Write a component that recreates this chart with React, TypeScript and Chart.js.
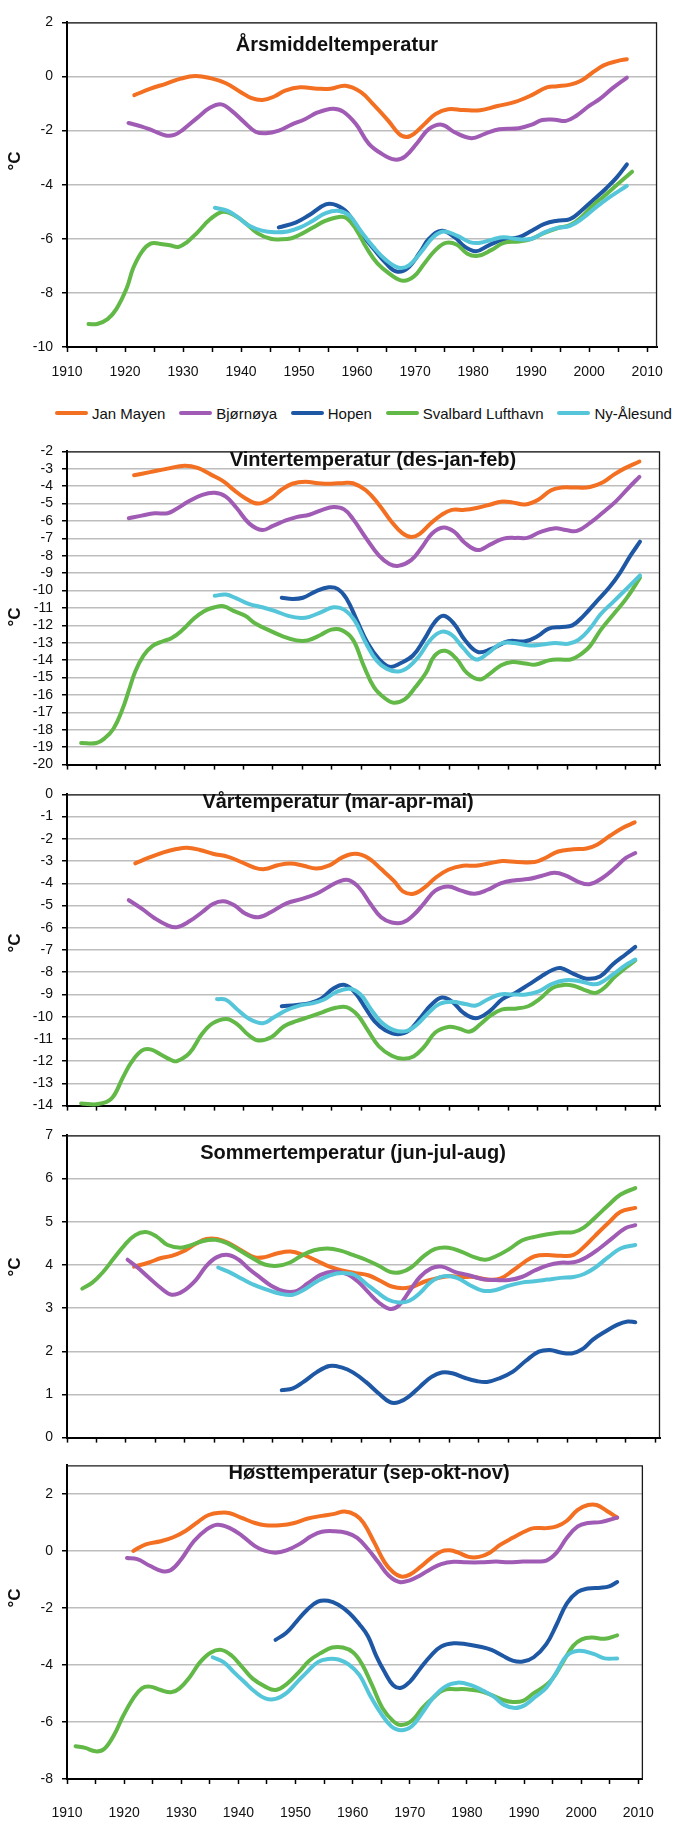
import React, { useEffect, useRef } from 'react';
import { Chart, registerables } from 'chart.js';

Chart.register(...registerables);
Chart.defaults.font.family = "'Liberation Sans', Arial, sans-serif";

type Pt = [number, number];

// ---------- categories / labels ----------
const stations = ['Jan Mayen', 'Bjørnøya', 'Hopen', 'Svalbard Lufthavn', 'Ny-Ålesund'];
const stationColors = ['#F36F21', '#A05BB4', '#1E57A4', '#62B947', '#55C6D9'];
const xTickYears = [1910, 1915, 1920, 1925, 1930, 1935, 1940, 1945, 1950, 1955, 1960, 1965, 1970, 1975, 1980, 1985, 1990, 1995, 2000, 2005, 2010];
const xLabelYears = [1910, 1920, 1930, 1940, 1950, 1960, 1970, 1980, 1990, 2000, 2010];

const annualTicks = [-10, -8, -6, -4, -2, 0, 2];
const winterTicks = [-20, -19, -18, -17, -16, -15, -14, -13, -12, -11, -10, -9, -8, -7, -6, -5, -4, -3, -2];
const springTicks = [-14, -13, -12, -11, -10, -9, -8, -7, -6, -5, -4, -3, -2, -1, 0];
const summerTicks = [0, 1, 2, 3, 4, 5, 6, 7];
const autumnTicks = [-8, -6, -4, -2, 0, 2];

// ---------- Årsmiddeltemperatur ----------
const annJanMayen: Pt[] = [[1921.6,-0.69],[1924.4,-0.45],[1927,-0.27],[1929.6,-0.08],[1932.1,0.02],[1934.7,-0.06],[1937.3,-0.24],[1939.9,-0.57],[1941.7,-0.79],[1943.7,-0.87],[1945.8,-0.73],[1947.6,-0.52],[1950.2,-0.4],[1953.2,-0.45],[1955.4,-0.45],[1958,-0.34],[1960.6,-0.57],[1962.8,-1.03],[1965.4,-1.64],[1967.2,-2.12],[1968.5,-2.24],[1969.8,-2.12],[1971.6,-1.76],[1973.5,-1.39],[1975.7,-1.21],[1978.3,-1.24],[1981.2,-1.25],[1984.2,-1.09],[1987.1,-0.95],[1990.1,-0.69],[1992.7,-0.4],[1994.5,-0.36],[1996.7,-0.3],[1998.6,-0.16],[2000.8,0.18],[2002.6,0.42],[2004.8,0.57],[2006.5,0.64]];
const annBjornoya: Pt[] = [[1920.6,-1.72],[1922.9,-1.85],[1924.8,-2.0],[1927,-2.18],[1928.5,-2.16],[1929.9,-1.98],[1932.5,-1.52],[1934.7,-1.15],[1936.6,-1.03],[1938.4,-1.27],[1940.6,-1.7],[1942.5,-2.04],[1944.3,-2.1],[1946.5,-2.0],[1948.7,-1.78],[1951,-1.58],[1953.2,-1.33],[1955.8,-1.19],[1957.6,-1.3],[1959.8,-1.76],[1962,-2.48],[1964.2,-2.85],[1966.5,-3.07],[1968.3,-2.95],[1970.5,-2.42],[1972.4,-1.94],[1974.6,-1.78],[1976.8,-2.06],[1979.7,-2.28],[1982,-2.12],[1984.5,-1.95],[1987.9,-1.91],[1990.1,-1.78],[1991.9,-1.61],[1994.1,-1.6],[1996,-1.64],[1997.8,-1.45],[2000,-1.09],[2001.9,-0.82],[2004.1,-0.42],[2006.5,-0.04]];
const annHopen: Pt[] = [[1946.5,-5.58],[1949.5,-5.39],[1951.7,-5.13],[1954.6,-4.73],[1956.5,-4.76],[1958.3,-5.03],[1960.6,-5.76],[1962.8,-6.36],[1965,-6.91],[1966.8,-7.21],[1968.7,-7.09],[1970.9,-6.48],[1972.4,-6.0],[1974.6,-5.7],[1976.8,-5.94],[1978.6,-6.3],[1980.5,-6.46],[1982.7,-6.24],[1985.3,-6.02],[1987.9,-5.94],[1990.1,-5.7],[1992.3,-5.45],[1994.5,-5.33],[1996.7,-5.27],[1998.6,-4.97],[2000.8,-4.55],[2003,-4.12],[2004.8,-3.72],[2006.5,-3.25]];
const annSvalbard: Pt[] = [[1913.7,-9.15],[1915.2,-9.15],[1917,-8.97],[1918.5,-8.6],[1920.3,-7.82],[1921.4,-7.09],[1922.9,-6.48],[1924.4,-6.18],[1925.9,-6.18],[1927.7,-6.24],[1929.2,-6.3],[1930.7,-6.12],[1932.5,-5.76],[1934.7,-5.27],[1936.9,-5.0],[1938.8,-5.13],[1940.6,-5.39],[1942.8,-5.79],[1945.1,-6.0],[1946.9,-6.02],[1948.7,-5.98],[1950.2,-5.84],[1952.4,-5.58],[1954.6,-5.33],[1956.9,-5.19],[1958.3,-5.25],[1959.8,-5.64],[1961.7,-6.36],[1963.5,-6.91],[1965.7,-7.31],[1967.9,-7.55],[1969.8,-7.39],[1971.6,-6.91],[1973.5,-6.42],[1975.3,-6.15],[1977.2,-6.22],[1979,-6.55],[1980.8,-6.63],[1983.1,-6.42],[1985.3,-6.15],[1987.9,-6.1],[1990.1,-6.0],[1992.3,-5.78],[1994.5,-5.61],[1996.7,-5.49],[1998.6,-5.21],[2000.8,-4.73],[2002.6,-4.42],[2004.8,-4.0],[2007.4,-3.52]];
const annNyAlesund: Pt[] = [[1935.5,-4.85],[1937.7,-4.97],[1939.5,-5.21],[1941.4,-5.52],[1943.6,-5.7],[1945.8,-5.76],[1948,-5.73],[1950.2,-5.58],[1952.4,-5.33],[1954.6,-5.05],[1956.9,-4.97],[1958.7,-5.15],[1960.6,-5.7],[1962.8,-6.3],[1965,-6.79],[1967.2,-7.07],[1969,-6.97],[1971.3,-6.42],[1973.1,-5.94],[1974.9,-5.73],[1977.2,-5.88],[1979.4,-6.12],[1981.2,-6.15],[1983.4,-6.02],[1985.3,-5.94],[1987.9,-6.02],[1990.1,-6.0],[1992.3,-5.76],[1994.5,-5.6],[1996.7,-5.52],[1998.9,-5.24],[2001.1,-4.85],[2003.4,-4.48],[2006.5,-4.04]];

// ---------- Vintertemperatur ----------
const winJanMayen: Pt[] = [[1921.4,-3.37],[1924.1,-3.19],[1927.1,-2.99],[1930,-2.82],[1932.2,-2.95],[1934.4,-3.32],[1936.6,-3.72],[1938.4,-4.23],[1940.3,-4.69],[1942.5,-5.0],[1944.7,-4.69],[1946.5,-4.19],[1948.3,-3.86],[1950.5,-3.74],[1952.7,-3.83],[1954.9,-3.86],[1957.1,-3.81],[1958.6,-3.83],[1960.8,-4.23],[1963,-5.05],[1965.2,-6.06],[1967,-6.7],[1968.5,-6.92],[1969.9,-6.75],[1971.8,-6.15],[1973.6,-5.66],[1975.4,-5.36],[1977.6,-5.36],[1979.8,-5.24],[1982,-5.05],[1983.8,-4.89],[1985.7,-4.93],[1987.9,-5.05],[1990.1,-4.78],[1992.3,-4.23],[1994.1,-4.08],[1996.7,-4.08],[1998.9,-4.05],[2001.1,-3.77],[2002.9,-3.35],[2004.7,-2.99],[2007.3,-2.58]];
const winBjornoya: Pt[] = [[1920.5,-5.84],[1922.7,-5.69],[1924.9,-5.56],[1927.1,-5.55],[1928.5,-5.33],[1930.7,-4.87],[1933,-4.5],[1935.1,-4.38],[1937,-4.6],[1938.8,-5.24],[1941,-6.15],[1943.2,-6.52],[1945,-6.28],[1947.2,-5.97],[1949,-5.78],[1951.2,-5.64],[1953.4,-5.36],[1955.3,-5.2],[1957.1,-5.33],[1958.6,-5.88],[1960.8,-6.97],[1963,-7.98],[1964.8,-8.47],[1966.3,-8.58],[1968.5,-8.25],[1970.3,-7.52],[1972.1,-6.7],[1974,-6.37],[1975.8,-6.61],[1977.6,-7.25],[1979.8,-7.67],[1982,-7.34],[1984.2,-7.01],[1986.4,-6.97],[1988.2,-6.97],[1990.4,-6.64],[1993,-6.42],[1994.8,-6.52],[1996.7,-6.57],[1998.9,-6.11],[2001.1,-5.51],[2003.3,-4.87],[2005.5,-4.08],[2007.3,-3.46]];
const winHopen: Pt[] = [[1946.5,-10.41],[1948.3,-10.48],[1950.1,-10.41],[1952.3,-10.04],[1954.5,-9.81],[1956,-9.9],[1957.5,-10.45],[1959.3,-11.73],[1961.1,-13.01],[1963,-13.92],[1964.8,-14.38],[1966.6,-14.19],[1968.8,-13.73],[1970.7,-12.82],[1972.5,-11.82],[1974,-11.45],[1975.8,-11.91],[1977.6,-12.82],[1979.8,-13.52],[1982,-13.37],[1985,-12.91],[1987.9,-12.91],[1990.1,-12.6],[1991.9,-12.18],[1994.1,-12.09],[1995.9,-12.0],[1997.8,-11.45],[2000,-10.63],[2002.2,-9.81],[2004,-8.98],[2005.8,-7.98],[2007.4,-7.19]];
const winSvalbard: Pt[] = [[1912.4,-18.76],[1915,-18.76],[1916.4,-18.49],[1917.9,-17.94],[1919.4,-16.84],[1920.5,-15.75],[1921.6,-14.65],[1923,-13.74],[1924.5,-13.19],[1926.3,-12.91],[1927.8,-12.73],[1929.6,-12.27],[1931.5,-11.63],[1933.3,-11.18],[1935.1,-10.96],[1936.6,-10.9],[1938.4,-11.18],[1940.3,-11.45],[1942.1,-11.91],[1944.3,-12.27],[1946.8,-12.64],[1949,-12.86],[1950.9,-12.86],[1953.1,-12.55],[1954.9,-12.24],[1956.7,-12.27],[1958.6,-12.82],[1960.4,-14.29],[1962.2,-15.56],[1964.1,-16.2],[1965.5,-16.44],[1967.4,-16.25],[1969.2,-15.56],[1971,-14.74],[1972.5,-13.74],[1974.3,-13.46],[1976.2,-13.92],[1978,-14.74],[1980.2,-15.11],[1982,-14.74],[1983.8,-14.29],[1985.7,-14.1],[1987.9,-14.19],[1989.7,-14.25],[1991.9,-14.01],[1993.7,-13.96],[1995.6,-13.96],[1997,-13.74],[1998.9,-13.19],[2000.7,-12.27],[2002.9,-11.36],[2005.1,-10.45],[2007.4,-9.26]];
const winNyAlesund: Pt[] = [[1935.1,-10.3],[1937,-10.23],[1938.8,-10.45],[1941,-10.78],[1943.2,-10.96],[1945.4,-11.18],[1947.6,-11.45],[1949.8,-11.58],[1951.2,-11.51],[1953.4,-11.21],[1955.3,-10.96],[1957.1,-11.09],[1958.9,-11.73],[1960.8,-13.01],[1962.6,-14.01],[1964.4,-14.5],[1966.3,-14.65],[1968.1,-14.38],[1969.9,-13.74],[1971.8,-12.82],[1973.6,-12.37],[1975.4,-12.55],[1977.3,-13.28],[1979.5,-13.96],[1981.6,-13.59],[1983.8,-13.04],[1986,-13.01],[1988.6,-13.15],[1990.8,-13.1],[1993,-13.01],[1995.2,-13.06],[1997,-12.82],[1998.9,-12.18],[2000.7,-11.36],[2002.9,-10.63],[2005.1,-9.9],[2007.4,-9.13]];

// ---------- Vårtemperatur ----------
const sprJanMayen: Pt[] = [[1921.6,-3.1],[1923.8,-2.86],[1926.4,-2.61],[1928.6,-2.46],[1930.4,-2.4],[1932.6,-2.5],[1934.8,-2.67],[1937.4,-2.81],[1939.6,-3.04],[1941.8,-3.29],[1943.6,-3.36],[1945.8,-3.19],[1948,-3.11],[1950.2,-3.21],[1952.4,-3.33],[1954.6,-3.19],[1956.8,-2.83],[1959,-2.67],[1961.2,-2.86],[1963.4,-3.36],[1965.6,-3.9],[1967.1,-4.36],[1968.9,-4.47],[1970.7,-4.21],[1972.6,-3.76],[1974.8,-3.39],[1977.3,-3.21],[1979.5,-3.21],[1981.8,-3.1],[1984,-3.0],[1986.5,-3.04],[1989.5,-3.04],[1991.3,-2.86],[1993.5,-2.57],[1996.1,-2.47],[1998.3,-2.43],[2000.1,-2.26],[2002.3,-1.86],[2004.5,-1.5],[2006.5,-1.26]];
const sprBjornoya: Pt[] = [[1920.5,-4.76],[1922.7,-5.14],[1924.9,-5.57],[1927.1,-5.89],[1928.7,-5.97],[1930.8,-5.71],[1933,-5.29],[1934.8,-4.93],[1936.6,-4.81],[1938.5,-5.0],[1940.3,-5.36],[1942.5,-5.53],[1944.7,-5.29],[1947.3,-4.9],[1949.8,-4.71],[1952.4,-4.47],[1954.6,-4.14],[1956.4,-3.9],[1957.9,-3.86],[1959.7,-4.21],[1961.6,-4.93],[1963.4,-5.53],[1965.2,-5.76],[1967.1,-5.76],[1968.9,-5.43],[1970.7,-4.9],[1972.6,-4.33],[1974.8,-4.14],[1977,-4.33],[1979.3,-4.47],[1981.5,-4.29],[1983.7,-4.0],[1986.2,-3.86],[1988.4,-3.81],[1990.6,-3.67],[1992.8,-3.53],[1994.7,-3.64],[1996.9,-3.93],[1998.8,-4.04],[2001,-3.76],[2003.2,-3.29],[2005,-2.86],[2006.6,-2.64]];
const sprHopen: Pt[] = [[1946.5,-9.53],[1949.1,-9.47],[1951.3,-9.39],[1953.2,-9.19],[1955.4,-8.71],[1957.2,-8.57],[1959,-8.93],[1960.8,-9.64],[1962.3,-10.21],[1964.1,-10.61],[1966.3,-10.79],[1968.2,-10.61],[1970,-10.07],[1971.8,-9.5],[1973.7,-9.14],[1975.5,-9.33],[1977.3,-9.81],[1979.5,-10.07],[1981.8,-9.76],[1984,-9.21],[1986.2,-8.93],[1988.4,-8.57],[1990.6,-8.19],[1992.5,-7.9],[1993.9,-7.81],[1996.1,-8.07],[1998.3,-8.29],[2000.6,-8.19],[2002.8,-7.64],[2005,-7.19],[2006.6,-6.86]];
const sprSvalbard: Pt[] = [[1912.4,-13.9],[1915.3,-13.93],[1917.6,-13.67],[1919.4,-12.79],[1920.9,-12.07],[1922.7,-11.53],[1924.2,-11.47],[1926,-11.71],[1927.8,-11.96],[1928.7,-12.0],[1930.8,-11.64],[1933,-10.76],[1934.8,-10.29],[1937.1,-10.1],[1938.9,-10.33],[1940.7,-10.79],[1942.5,-11.07],[1944.7,-10.93],[1946.9,-10.43],[1949.1,-10.19],[1951.3,-10.0],[1953.5,-9.79],[1955.7,-9.6],[1957.5,-9.57],[1959.4,-9.93],[1961.2,-10.64],[1963,-11.33],[1965.2,-11.76],[1967.1,-11.89],[1968.9,-11.79],[1970.7,-11.36],[1972.6,-10.71],[1974.8,-10.46],[1976.6,-10.53],[1978.5,-10.67],[1980.3,-10.33],[1982.1,-9.93],[1984,-9.67],[1986.2,-9.64],[1988.4,-9.53],[1990.3,-9.21],[1992.5,-8.71],[1994.4,-8.57],[1996.1,-8.61],[1997.9,-8.79],[1999.8,-8.93],[2001.3,-8.71],[2003.1,-8.21],[2005,-7.79],[2006.6,-7.47]];
const sprNyAlesund: Pt[] = [[1935.5,-9.21],[1937,-9.24],[1938.8,-9.64],[1941,-10.1],[1943.3,-10.29],[1945.1,-10.04],[1947.3,-9.71],[1949.5,-9.5],[1951.7,-9.4],[1953.6,-9.24],[1955.7,-8.9],[1958,-8.74],[1959.9,-9.0],[1961.6,-9.64],[1963.4,-10.24],[1965.6,-10.61],[1967.8,-10.64],[1969.6,-10.33],[1971.5,-9.81],[1973.3,-9.43],[1975.5,-9.33],[1977.7,-9.43],[1979.5,-9.5],[1981.4,-9.24],[1983.6,-9.0],[1985.7,-9.0],[1988,-9.0],[1990.2,-8.86],[1992.4,-8.53],[1994.7,-8.36],[1996.9,-8.39],[1999.1,-8.53],[2000.5,-8.5],[2002.8,-8.1],[2005,-7.67],[2006.6,-7.43]];

// ---------- Sommertemperatur ----------
const sumJanMayen: Pt[] = [[1921.4,3.96],[1923.8,4.05],[1926,4.16],[1927.8,4.21],[1929.7,4.31],[1931.9,4.49],[1933.7,4.6],[1935.5,4.6],[1937.4,4.51],[1939.6,4.34],[1941.8,4.18],[1943.6,4.18],[1945.8,4.27],[1948,4.31],[1950.2,4.23],[1952.4,4.1],[1954.6,3.96],[1956.8,3.87],[1959,3.81],[1961.2,3.76],[1963.4,3.62],[1965.2,3.5],[1967.1,3.46],[1968.9,3.5],[1970.7,3.61],[1972.6,3.68],[1974.8,3.74],[1977,3.72],[1979.2,3.72],[1981.4,3.66],[1983.6,3.68],[1985.8,3.87],[1987.7,4.06],[1989.5,4.2],[1991.7,4.23],[1993.9,4.21],[1996.1,4.23],[1997.9,4.42],[1999.8,4.68],[2002,4.97],[2004.1,5.23],[2006.6,5.32]];
const sumBjornoya: Pt[] = [[1920.3,4.12],[1922,3.94],[1923.8,3.72],[1926,3.46],[1927.8,3.31],[1929.7,3.39],[1931.9,3.65],[1933.7,3.98],[1935.5,4.18],[1937.4,4.23],[1939.2,4.12],[1941,3.9],[1942.9,3.7],[1944.7,3.52],[1946.9,3.39],[1949.1,3.4],[1950.9,3.57],[1953.1,3.77],[1955.3,3.85],[1957.5,3.79],[1959.4,3.62],[1961.2,3.37],[1963,3.13],[1964.9,2.98],[1966.4,3.06],[1968.2,3.39],[1970,3.72],[1971.9,3.92],[1973.7,3.96],[1975.9,3.84],[1978.1,3.77],[1980.7,3.67],[1982.9,3.65],[1985.1,3.65],[1987.3,3.72],[1989.5,3.87],[1991.7,3.99],[1993.9,4.05],[1996.1,4.06],[1998.3,4.18],[2000.5,4.38],[2002.7,4.62],[2004.9,4.85],[2006.6,4.92]];
const sumHopen: Pt[] = [[1946.5,1.1],[1948.4,1.14],[1950.2,1.29],[1952.4,1.51],[1954.6,1.66],[1956.8,1.62],[1958.6,1.51],[1960.8,1.29],[1963,1.02],[1964.9,0.82],[1966.4,0.82],[1968.2,0.96],[1970,1.18],[1971.9,1.4],[1973.7,1.51],[1975.5,1.49],[1977.7,1.38],[1979.6,1.31],[1981.4,1.29],[1983.6,1.38],[1985.8,1.53],[1988,1.78],[1990.2,1.99],[1992.1,2.03],[1993.9,1.97],[1995.8,1.95],[1997.6,2.05],[1999.4,2.27],[2001.3,2.44],[2003.5,2.61],[2005.3,2.69],[2006.6,2.67]];
const sumSvalbard: Pt[] = [[1912.6,3.45],[1914.3,3.59],[1916.1,3.83],[1917.9,4.14],[1919.8,4.46],[1921.6,4.69],[1923.4,4.76],[1925.3,4.65],[1927.1,4.46],[1929.3,4.4],[1931.1,4.46],[1933,4.55],[1935.2,4.58],[1937.1,4.51],[1939.3,4.34],[1941.5,4.16],[1943.6,4.01],[1945.8,3.98],[1947.8,4.05],[1949.8,4.21],[1952,4.34],[1954.3,4.38],[1956.5,4.33],[1958.6,4.23],[1960.8,4.12],[1963,3.98],[1964.9,3.84],[1966.7,3.83],[1968.5,3.94],[1970.7,4.21],[1972.6,4.37],[1974.8,4.4],[1977,4.31],[1979.2,4.18],[1981.1,4.12],[1982.9,4.2],[1985.1,4.36],[1987.4,4.57],[1989.5,4.65],[1991.7,4.71],[1993.9,4.75],[1996.1,4.76],[1997.9,4.87],[1999.8,5.1],[2002,5.38],[2004.1,5.63],[2006.6,5.78]];
const sumNyAlesund: Pt[] = [[1935.7,3.94],[1937.5,3.84],[1939.7,3.68],[1941.9,3.53],[1944.1,3.42],[1946.3,3.33],[1948.4,3.31],[1950.2,3.42],[1952.4,3.61],[1954.7,3.76],[1956.8,3.81],[1959,3.76],[1960.8,3.57],[1962.7,3.37],[1964.5,3.2],[1966.4,3.13],[1968.2,3.17],[1970,3.35],[1971.9,3.61],[1974.1,3.74],[1976.3,3.7],[1978.5,3.53],[1980.7,3.4],[1982.9,3.42],[1985.1,3.52],[1987.3,3.59],[1989.5,3.62],[1991.7,3.66],[1993.9,3.7],[1996.1,3.72],[1997.9,3.79],[1999.8,3.94],[2002,4.18],[2004.1,4.38],[2006.6,4.46]];

// ---------- Høsttemperatur ----------
const autJanMayen: Pt[] = [[1921.6,0.0],[1923.8,0.23],[1926.4,0.34],[1928.6,0.48],[1930.8,0.71],[1933,1.03],[1934.8,1.26],[1937,1.34],[1938.5,1.32],[1940.7,1.15],[1942.9,0.98],[1944.7,0.9],[1947.3,0.9],[1949.8,0.98],[1952,1.13],[1954.6,1.23],[1956.8,1.3],[1958.6,1.38],[1960.5,1.26],[1961.9,0.98],[1963.8,0.29],[1965.6,-0.4],[1967.1,-0.75],[1968.5,-0.9],[1970,-0.83],[1971.8,-0.57],[1973.7,-0.25],[1975.5,-0.02],[1977,0.02],[1978.5,-0.06],[1980.3,-0.21],[1982.1,-0.21],[1984,-0.06],[1985.8,0.21],[1988,0.46],[1990.2,0.69],[1991.7,0.8],[1993.9,0.8],[1995.7,0.86],[1997.5,1.06],[1999.4,1.44],[2001.2,1.61],[2002.7,1.61],[2004.5,1.4],[2006.3,1.17]];
const autBjornoya: Pt[] = [[1920.5,-0.25],[1922.3,-0.29],[1924.5,-0.52],[1926.7,-0.71],[1928.2,-0.67],[1930,-0.29],[1932.2,0.34],[1934.4,0.75],[1936.3,0.92],[1938.5,0.8],[1940.7,0.52],[1942.9,0.17],[1944.7,0.0],[1946.5,-0.06],[1948.4,0.02],[1950.6,0.23],[1952.8,0.52],[1954.6,0.67],[1956.8,0.69],[1959,0.63],[1960.8,0.46],[1962.7,0.06],[1964.5,-0.4],[1966.3,-0.86],[1968.2,-1.09],[1970,-1.03],[1971.8,-0.86],[1973.7,-0.63],[1975.5,-0.46],[1977.7,-0.38],[1979.9,-0.4],[1982.5,-0.4],[1985.1,-0.37],[1987.3,-0.4],[1989.8,-0.37],[1992,-0.37],[1993.9,-0.34],[1995.7,-0.06],[1997.5,0.46],[1999.4,0.86],[2001.2,0.98],[2003.4,1.01],[2006.3,1.17]];
const autHopen: Pt[] = [[1946.5,-3.12],[1948.4,-2.87],[1950.2,-2.47],[1952,-2.07],[1953.9,-1.78],[1955.7,-1.75],[1957.5,-1.89],[1959.4,-2.18],[1961.2,-2.58],[1962.7,-3.0],[1964.1,-3.67],[1965.6,-4.25],[1967.1,-4.71],[1968.5,-4.8],[1970,-4.59],[1971.8,-4.13],[1973.7,-3.67],[1975.5,-3.35],[1977.7,-3.24],[1979.9,-3.27],[1982.1,-3.35],[1984.3,-3.47],[1986.2,-3.67],[1988,-3.85],[1989.8,-3.88],[1991.7,-3.73],[1993.9,-3.27],[1995.7,-2.58],[1997.5,-1.84],[1999.4,-1.44],[2001.2,-1.32],[2003.4,-1.29],[2004.9,-1.24],[2006.3,-1.09]];
const autSvalbard: Pt[] = [[1911.5,-6.85],[1913.2,-6.91],[1915,-7.03],[1916.5,-6.95],[1918.3,-6.43],[1919.8,-5.8],[1921.6,-5.17],[1923.1,-4.82],[1924.5,-4.76],[1926.4,-4.88],[1928.2,-4.96],[1929.7,-4.82],[1931.5,-4.42],[1933.3,-3.9],[1935.2,-3.56],[1937,-3.47],[1938.8,-3.67],[1940.7,-4.08],[1942.5,-4.48],[1944.7,-4.76],[1946.5,-4.88],[1948.4,-4.68],[1950.6,-4.25],[1952.4,-3.85],[1954.6,-3.56],[1956.4,-3.39],[1958.3,-3.39],[1960.1,-3.56],[1961.6,-3.96],[1963.4,-4.71],[1965.2,-5.51],[1967.1,-5.97],[1968.5,-6.11],[1970.4,-5.95],[1972.2,-5.51],[1974,-5.17],[1975.9,-4.88],[1978.1,-4.85],[1979.9,-4.85],[1982.1,-4.91],[1984,-5.03],[1986.2,-5.22],[1988,-5.3],[1989.8,-5.26],[1991.7,-4.99],[1993.5,-4.76],[1995,-4.48],[1996.8,-3.9],[1998.6,-3.33],[2000.1,-3.1],[2001.9,-3.04],[2004.1,-3.08],[2006.3,-2.96]];
const autNyAlesund: Pt[] = [[1935.5,-3.73],[1937.4,-3.9],[1939.2,-4.25],[1941,-4.59],[1942.9,-4.94],[1944.7,-5.17],[1946.5,-5.19],[1948.4,-4.99],[1950.2,-4.62],[1952,-4.25],[1953.9,-3.9],[1955.7,-3.79],[1957.5,-3.81],[1959.4,-4.0],[1961.2,-4.36],[1963,-5.05],[1964.9,-5.68],[1966.7,-6.14],[1968.5,-6.29],[1970.4,-6.14],[1972.2,-5.68],[1974,-5.17],[1976.2,-4.76],[1978.4,-4.62],[1980.7,-4.71],[1982.9,-4.91],[1984.7,-5.11],[1986.5,-5.4],[1988.4,-5.51],[1990.2,-5.4],[1992,-5.11],[1993.9,-4.8],[1995.7,-4.25],[1997.5,-3.67],[1999.6,-3.5],[2002.3,-3.62],[2004.1,-3.77],[2006.3,-3.77]];

// ---------- panel layout (styles only) ----------
type PanelCfg = {
  title: string;
  series: Pt[][];
  yMin: number; yMax: number; yTicks: number[];
  xMax: number;
  areaTop: number; areaBottom: number;
  bottomExtra: number; showXLabels: boolean; xPad: number;
  titleX: number; titleY: number; unitY: number;
};

const PAD_TOP = 12;

const panels: PanelCfg[] = [
  { title: 'Årsmiddeltemperatur', series: [annJanMayen, annBjornoya, annHopen, annSvalbard, annNyAlesund],
    yMin: -10, yMax: 2, yTicks: annualTicks, xMax: 2011.7, areaTop: 17, areaBottom: 347,
    bottomExtra: 45, showXLabels: true, xPad: 12, titleX: 337, titleY: 45, unitY: 161 },
  { title: 'Vintertemperatur (des-jan-feb)', series: [winJanMayen, winBjornoya, winHopen, winSvalbard, winNyAlesund],
    yMin: -20, yMax: -2, yTicks: winterTicks, xMax: 2010.8, areaTop: 446, areaBottom: 774,
    bottomExtra: 8, showXLabels: false, xPad: 0, titleX: 373, titleY: 460, unitY: 617 },
  { title: 'Vårtemperatur (mar-apr-mai)', series: [sprJanMayen, sprBjornoya, sprHopen, sprSvalbard, sprNyAlesund],
    yMin: -14, yMax: 0, yTicks: springTicks, xMax: 2010.8, areaTop: 789, areaBottom: 1115,
    bottomExtra: 8, showXLabels: false, xPad: 0, titleX: 338, titleY: 802, unitY: 943 },
  { title: 'Sommertemperatur (jun-jul-aug)', series: [sumJanMayen, sumBjornoya, sumHopen, sumSvalbard, sumNyAlesund],
    yMin: 0, yMax: 7, yTicks: summerTicks, xMax: 2010.8, areaTop: 1130, areaBottom: 1447,
    bottomExtra: 8, showXLabels: false, xPad: 0, titleX: 353, titleY: 1153, unitY: 1267 },
  { title: 'Høsttemperatur (sep-okt-nov)', series: [autJanMayen, autBjornoya, autHopen, autSvalbard, autNyAlesund],
    yMin: -8, yMax: 3, yTicks: autumnTicks, xMax: 2010.8, areaTop: 1460, areaBottom: 1779,
    bottomExtra: 44, showXLabels: true, xPad: 21, titleX: 369, titleY: 1473, unitY: 1598 },
];

const decorPlugin = {
  id: 'decor',
  beforeDatasetsDraw(chart: any) {
    const { ctx, chartArea: a } = chart;
    ctx.save();
    ctx.strokeStyle = '#1a1a1a';
    ctx.lineWidth = 1.3;
    ctx.beginPath();
    ctx.moveTo(a.left, a.top + 0.5);
    ctx.lineTo(a.right - 0.5, a.top + 0.5);
    ctx.lineTo(a.right - 0.5, a.bottom);
    ctx.stroke();
    ctx.restore();
  },
  afterDraw(chart: any, _args: any, opts: any) {
    const { ctx } = chart;
    ctx.save();
    ctx.fillStyle = '#111';
    ctx.font = "bold 20px 'Liberation Sans', Arial, sans-serif";
    ctx.textAlign = 'center';
    ctx.textBaseline = 'middle';
    ctx.fillText(opts.title, opts.titleX, opts.titleY);
    ctx.translate(15, opts.unitY);
    ctx.rotate(-Math.PI / 2);
    ctx.font = "bold 17px 'Liberation Sans', Arial, sans-serif";
    ctx.fillText('°C', 0, 0);
    ctx.restore();
  },
};

function Panel({ cfg }: { cfg: PanelCfg }) {
  const ref = useRef<HTMLCanvasElement | null>(null);
  const canvasTop = cfg.areaTop - PAD_TOP;
  const height = PAD_TOP + (cfg.areaBottom - cfg.areaTop) + cfg.bottomExtra;

  useEffect(() => {
    if (!ref.current) return;
    const datasets = cfg.series.map((pts, i) => ({
      label: stations[i],
      data: pts.map(([x, y]) => ({ x, y })),
      borderColor: stationColors[i],
      backgroundColor: stationColors[i],
      borderWidth: 4,
      pointRadius: 0,
      tension: 0.4,
      borderCapStyle: 'round' as const,
      borderJoinStyle: 'round' as const,
      clip: false as any,
      fill: false,
      order: stations.length - i,
    }));
    const chart = new Chart(ref.current, {
      type: 'line',
      data: { datasets },
      plugins: [decorPlugin],
      options: {
        animation: false,
        responsive: false,
        maintainAspectRatio: false,
        devicePixelRatio: 1,
        layout: { padding: { top: PAD_TOP, right: 15, left: 0, bottom: 0 } },
        plugins: {
          legend: { display: false },
          tooltip: { enabled: false },
          decor: { title: cfg.title, titleX: cfg.titleX, titleY: cfg.titleY - canvasTop, unitY: cfg.unitY - canvasTop },
        } as any,
        scales: {
          x: {
            type: 'linear',
            min: 1910,
            max: cfg.xMax,
            afterBuildTicks: (s: any) => { s.ticks = xTickYears.map((v) => ({ value: v })); },
            afterFit: (s: any) => { s.height = cfg.bottomExtra; },
            grid: { drawOnChartArea: false, drawTicks: true, tickLength: 5, tickColor: '#000', tickWidth: 1.5 },
            border: { display: true, color: '#000', width: 2 },
            ticks: {
              display: cfg.showXLabels,
              autoSkip: false,
              maxRotation: 0,
              padding: cfg.xPad,
              color: '#111',
              font: { size: 14 },
              callback: (v: any) => (xLabelYears.includes(Number(v)) ? String(v) : ''),
            },
          },
          y: {
            type: 'linear',
            min: cfg.yMin,
            max: cfg.yMax,
            afterBuildTicks: (s: any) => { s.ticks = cfg.yTicks.map((v) => ({ value: v })); },
            afterFit: (s: any) => { s.width = 67; },
            grid: { color: '#BDBDBD', lineWidth: 1.5, tickColor: '#000', tickLength: 5, tickWidth: 1.5 },
            border: { display: true, color: '#000', width: 2 },
            ticks: { autoSkip: false, padding: 9, color: '#111', font: { size: 14 }, callback: (v: any) => String(v) },
          },
        },
      } as any,
    });
    return () => chart.destroy();
  }, []);

  return (
    <canvas
      ref={ref}
      width={675}
      height={height}
      style={{ position: 'absolute', left: 0, top: canvasTop, width: 675, height, display: 'block' }}
    />
  );
}

export default function App() {
  return (
    <div style={{ position: 'absolute', left: 0, top: 0, width: 675, height: 1823, background: '#fff', overflow: 'hidden' }}>
      {panels.map((p, i) => (
        <Panel key={i} cfg={p} />
      ))}
      <div
        style={{
          position: 'absolute', left: 55, top: 403, width: 617, height: 20,
          display: 'flex', justifyContent: 'space-between', alignItems: 'center',
          font: "15px 'Liberation Sans', Arial, sans-serif", color: '#111', whiteSpace: 'nowrap',
        }}
      >
        {stations.map((s, i) => (
          <div key={s} style={{ display: 'flex', alignItems: 'center' }}>
            <span style={{ display: 'inline-block', width: 33, height: 4, borderRadius: 2, background: stationColors[i], marginRight: 4 }} />
            <span>{s}</span>
          </div>
        ))}
      </div>
    </div>
  );
}
